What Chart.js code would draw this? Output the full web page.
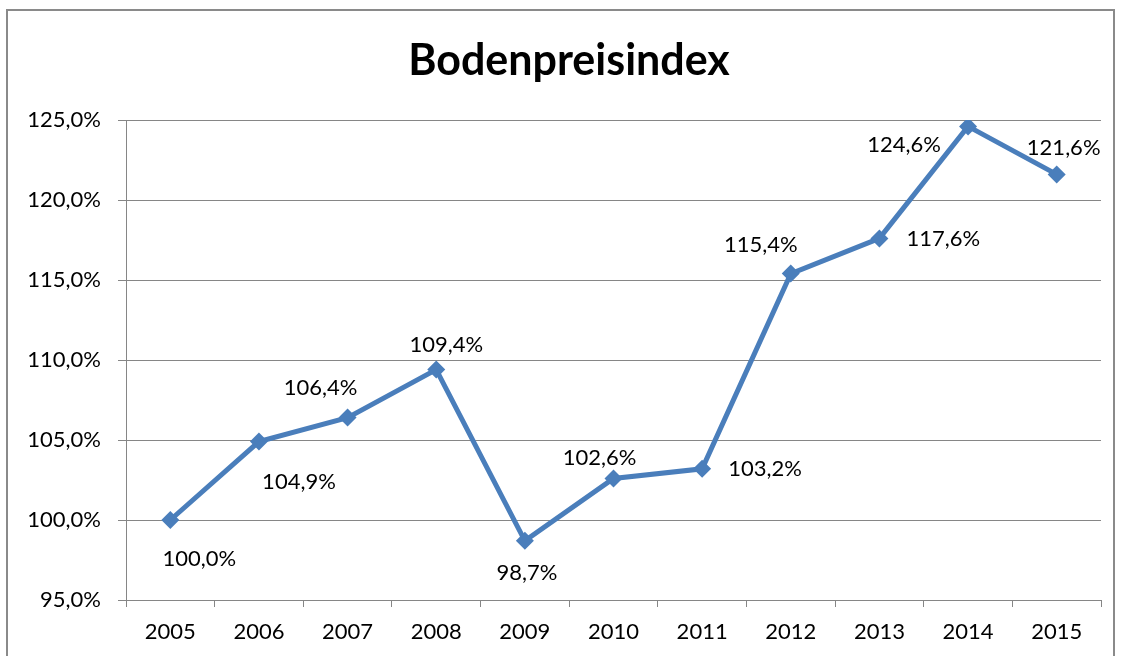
<!DOCTYPE html>
<html>
<head>
<meta charset="utf-8">
<script src="https://cdn.jsdelivr.net/npm/chart.js@4/dist/chart.umd.min.js"></script>
<style>
  body { margin: 0; background: #fff; }
  #wrap { position: relative; width: 1122px; height: 656px; }
  #frame {
    position: absolute; left: 6px; top: 9px; width: 1109px; height: 660px;
    border: 2px solid #8a8a8a; box-sizing: border-box;
  }
  canvas { position: absolute; left: 0; top: 0; }
</style>
</head>
<body>
<div id="wrap">
  <div id="frame"></div>
  <canvas id="chart" width="1122" height="656"></canvas>
</div>
<script>
const years = ['2005', '2006', '2007', '2008', '2009', '2010', '2011', '2012', '2013', '2014', '2015'];
const indexValues = [100.0, 104.9, 106.4, 109.4, 98.7, 102.6, 103.2, 115.4, 117.6, 124.6, 121.6];
const chartTitle = 'Bodenpreisindex';

// where each value label sits relative to its point (px)
const labelOffsets = [
  [29, 39], [40, 40], [-27, -30], [10, -25], [2, 32], [-14, -20],
  [63, 0], [-30, -29], [64, 1], [-64, 19], [7, -26]
];

const fontFamily = 'Lato, "Open Sans", sans-serif';
const fmt = v => v.toFixed(1).replace('.', ',') + '%';

const valueLabels = {
  id: 'valueLabels',
  afterDatasetsDraw(chart) {
    const ctx = chart.ctx;
    const meta = chart.getDatasetMeta(0);
    ctx.save();
    ctx.font = '22px ' + fontFamily;
    ctx.fillStyle = '#000';
    ctx.textAlign = 'center';
    ctx.textBaseline = 'middle';
    meta.data.forEach((pt, i) => {
      const o = labelOffsets[i];
      ctx.fillText(fmt(indexValues[i]), pt.x + o[0], pt.y + o[1]);
    });
    // title, centred on the frame rather than the canvas
    ctx.font = 'bold 43px ' + fontFamily;
    ctx.fillText(chartTitle, 569, 61);
    ctx.restore();
  }
};

new Chart(document.getElementById('chart').getContext('2d'), {
  type: 'line',
  data: {
    labels: years,
    datasets: [{
      data: indexValues,
      borderColor: '#4a7ebb',
      backgroundColor: '#4a7ebb',
      borderWidth: 5,
      pointStyle: 'rectRot',
      pointRadius: 9,
      pointBorderWidth: 0,
      fill: false,
      tension: 0
    }]
  },
  options: {
    responsive: false,
    animation: false,
    layout: { padding: { left: 0, right: 21, top: 120, bottom: 0 } },
    plugins: {
      legend: { display: false },
      tooltip: { enabled: false },
      title: { display: false }
    },
    scales: {
      x: {
        offset: true,
        grid: { drawOnChartArea: false, drawTicks: true, tickLength: 7, color: '#868686', offset: true },
        border: { color: '#868686', width: 1 },
        ticks: { color: '#000', font: { family: fontFamily, size: 22 }, padding: 12, maxRotation: 0 },
        afterFit: s => { s.height = 56; }
      },
      y: {
        min: 95,
        max: 125,
        grid: { color: '#868686', lineWidth: 1, tickLength: 8 },
        border: { color: '#868686', width: 1 },
        ticks: {
          stepSize: 5,
          color: '#000',
          font: { family: fontFamily, size: 22 },
          padding: 17,
          callback: v => fmt(v)
        },
        afterFit: s => { s.width = 126; }
      }
    }
  },
  plugins: [valueLabels]
});
</script>
</body>
</html>
